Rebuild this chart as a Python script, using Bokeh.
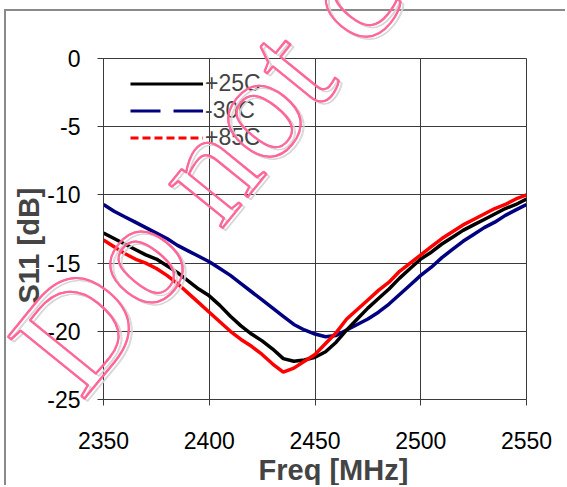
from bokeh.plotting import figure
from bokeh.models import Range1d, FixedTicker, Legend, LegendItem, Title, Label, ColumnDataSource
from bokeh.embed import file_html
from bokeh.resources import INLINE

freq = [2350, 2355, 2360, 2365, 2370, 2375, 2380, 2385, 2390, 2395,
        2400, 2405, 2410, 2415, 2420, 2425, 2430, 2435, 2440, 2445,
        2450, 2455, 2460, 2465, 2470, 2475, 2480, 2485, 2490, 2495,
        2500, 2505, 2510, 2515, 2520, 2525, 2530, 2535, 2540, 2545, 2550]

s11_p25 = [-12.8, -13.2, -13.6, -14.0, -14.4, -14.7, -15.2, -15.7, -16.3, -16.9,
           -17.4, -18.1, -18.9, -19.6, -20.2, -20.7, -21.3, -22.0, -22.2, -22.1,
           -21.9, -21.5, -20.8, -19.9, -19.1, -18.3, -17.6, -16.9, -16.1, -15.4,
           -14.7, -14.2, -13.6, -13.1, -12.6, -12.2, -11.8, -11.4, -11.0, -10.7, -10.3]

s11_m30 = [-10.7, -11.2, -11.6, -12.0, -12.4, -12.8, -13.2, -13.7, -14.1, -14.5,
           -14.9, -15.4, -15.9, -16.5, -17.1, -17.7, -18.3, -18.9, -19.5, -19.9,
           -20.2, -20.4, -20.3, -19.9, -19.5, -19.1, -18.6, -18.0, -17.3, -16.6,
           -15.9, -15.3, -14.6, -14.0, -13.4, -12.9, -12.4, -12.0, -11.5, -11.1, -10.7]

s11_p85 = [-13.3, -13.8, -14.3, -14.7, -15.0, -15.4, -15.9, -16.5, -17.2, -17.9,
           -18.6, -19.3, -20.0, -20.6, -21.1, -21.7, -22.4, -23.0, -22.7, -22.2,
           -21.7, -20.9, -20.1, -19.1, -18.4, -17.7, -17.0, -16.4, -15.6, -15.0,
           -14.4, -13.8, -13.2, -12.7, -12.2, -11.8, -11.4, -11.0, -10.7, -10.3, -10.0]

series_names = ["+25C", "-30C", "+85C"]
x_ticks = [2350, 2400, 2450, 2500, 2550]
y_ticks = [0, -5, -10, -15, -20, -25]
y_tick_labels = ["0", "-5", "-10", "-15", "-20", "-25"]
x_title = "Freq [MHz]"
y_title = "S11 [dB]"
watermark = "Do not copy"

FONT = "Liberation Sans"
GRID = "#3a3a3a"
NAN = float("nan")

p = figure(width=561, height=476, output_backend="svg", toolbar_location=None,
           x_range=Range1d(2350, 2550), y_range=Range1d(-25, 0),
           min_border_left=97, min_border_right=41, min_border_top=47, min_border_bottom=88,
           background_fill_color="white", border_fill_color="white",
           outline_line_color=GRID, outline_line_width=1,
           styles={"margin-left": "4px", "margin-top": "9px",
                   "border-left": "2px solid #8a8a8a", "border-top": "2px solid #8a8a8a"})

# axes
p.xaxis.ticker = FixedTicker(ticks=x_ticks)
p.yaxis.ticker = FixedTicker(ticks=y_ticks)
p.yaxis.major_label_overrides = {t: s for t, s in zip(y_ticks, y_tick_labels)}
for ax in (p.xaxis[0], p.yaxis[0]):
    ax.axis_line_color = GRID
    ax.major_tick_line_color = GRID
    ax.major_tick_in = 0
    ax.major_tick_out = 6
    ax.minor_tick_line_color = None
    ax.major_label_text_font = FONT
    ax.major_label_text_font_size = "23px"
    ax.major_label_text_color = "black"
p.xaxis.major_label_standoff = 26
p.yaxis.major_label_standoff = 17

p.xgrid.ticker = FixedTicker(ticks=x_ticks)
p.ygrid.ticker = FixedTicker(ticks=y_ticks)
p.grid.grid_line_color = GRID
p.grid.grid_line_width = 1

# axis titles
xt = Title(text=x_title, align="left", offset=155, text_font=FONT, text_font_size="29px",
           text_font_style="bold", standoff=0)
p.add_layout(xt, "below")
yt = Title(text=y_title, align="left", offset=96, text_font=FONT, text_font_size="29px",
           text_font_style="bold", standoff=0)
p.add_layout(yt, "left")

src = ColumnDataSource(dict(f=freq, a=s11_p25, b=s11_m30, c=s11_p85))
p.line("f", "b", source=src, line_color="#000080", line_width=3.5)
p.line("f", "a", source=src, line_color="black", line_width=3.5)
p.line("f", "c", source=src, line_color="#ff0000", line_width=3.5)

# legend swatches (dashed as in the original legend); NaN data so nothing is drawn in the plot
la = p.line(x=[NAN], y=[NAN], line_color="black", line_width=3)
lb = p.line(x=[NAN], y=[NAN], line_color="#000080", line_width=3, line_dash="30 13")
lc = p.line(x=[NAN], y=[NAN], line_color="#ff0000", line_width=3, line_dash="8 4")
legend = Legend(items=[LegendItem(label=series_names[0], renderers=[la]),
                       LegendItem(label=series_names[1], renderers=[lb]),
                       LegendItem(label=series_names[2], renderers=[lc])],
                location=(27, 248), padding=0, margin=0, spacing=0,
                glyph_width=73, glyph_height=25, label_height=25, label_standoff=2,
                label_text_font=FONT, label_text_font_size="23px",
                border_line_color=None, background_fill_alpha=0)
p.add_layout(legend, "center")

# watermark: a separate transparent full-page overlay, so the text is not clipped to the plot frame
ov = figure(width=567, height=487, output_backend="svg", toolbar_location=None,
            x_range=Range1d(0, 567), y_range=Range1d(0, 487),
            x_axis_type=None, y_axis_type=None, min_border=0,
            background_fill_color=None, border_fill_color=None, outline_line_color=None,
            styles={"margin-top": "-487px"})
ov.grid.visible = False
layers = [("#d6d6d6", 3, -3), ("#d6d6d6", 4, -3),
          ("#ff6699", 0, 0), ("#ff6699", 1, 0), ("#ff6699", 0, -1), ("#ff6699", 1, -1)]
for col, dx, dy in layers:
    ov.add_layout(Label(x=41, y=116, x_offset=dx, y_offset=dy, text=watermark,
                        angle=0.89, text_font="Liberation Sans Narrow", text_font_size="150px",
                        text_color="rgba(255,255,255,0)", text_outline_color=col,
                        text_align="left", text_baseline="alphabetic"))

open("out.html", "w").write(file_html([p, ov], INLINE))
